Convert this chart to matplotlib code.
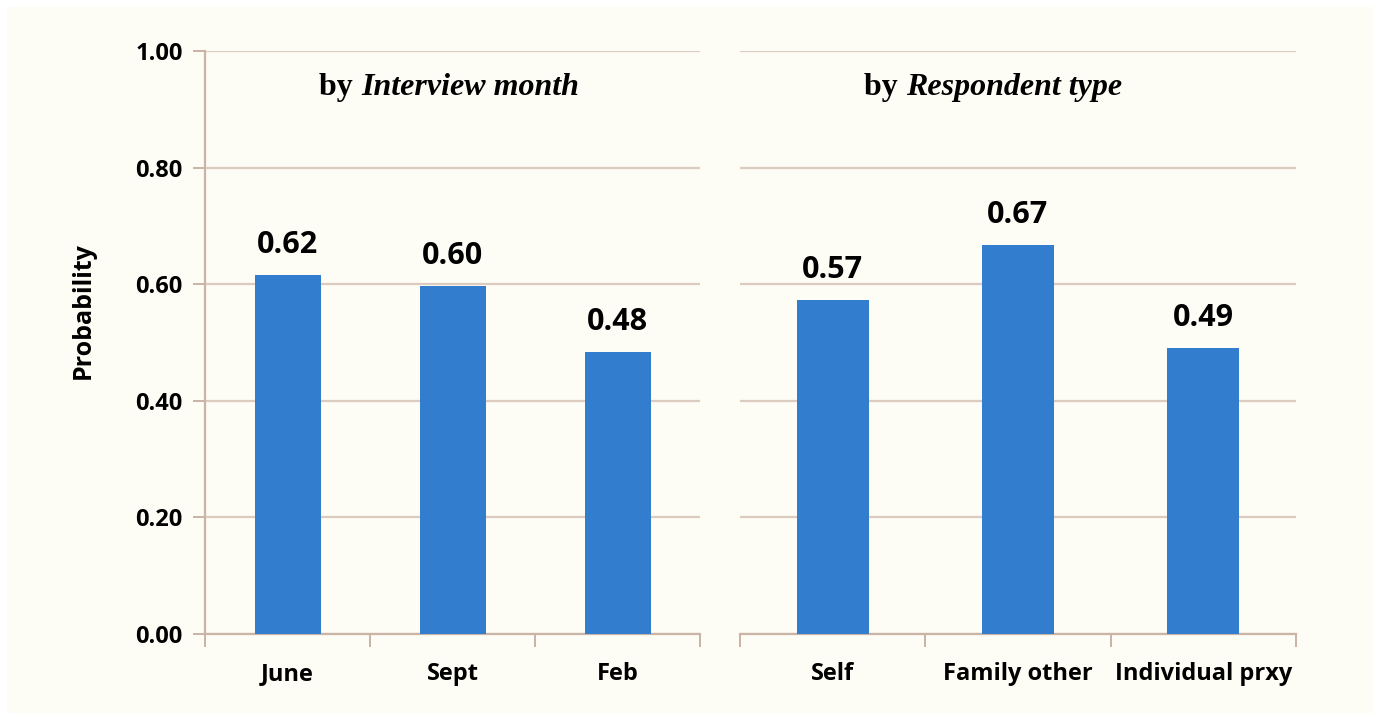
import matplotlib.pyplot as plt
from matplotlib.patches import Rectangle

# data (bar heights; labels show 2 decimals)
month_labels = ['June', 'Sept', 'Feb']
month_probs = [0.616, 0.597, 0.484]
resp_labels = ['Self', 'Family other', 'Individual prxy']
resp_probs = [0.573, 0.667, 0.490]
y_ticks = [0.0, 0.2, 0.4, 0.6, 0.8, 1.0]

bar_color = '#337dcf'
grid_color = '#dccbbf'
axis_color = '#c9b4a6'
bg = '#fdfcf5'
sans = 'Open Sans'
serif = 'Liberation Serif'

fig = plt.figure(figsize=(13.73, 7.13), dpi=100, facecolor='white')
fig.patches.append(Rectangle((7 / 1373, 0), 1, 1 - 7 / 713, transform=fig.transFigure,
                             facecolor=bg, edgecolor='none', zorder=-10))

H = 713.0
W = 1373.0
ax1 = fig.add_axes([205 / W, 1 - 634 / H, 495 / W, 583 / H])
ax2 = fig.add_axes([740 / W, 1 - 634 / H, 556 / W, 583 / H])


def panel(ax, labels, vals, width, title, title_x, show_y):
    ax.set_facecolor('none')
    x = range(len(vals))
    bars = ax.bar(x, vals, width=width, color=bar_color, zorder=3)
    ax.set_xlim(-0.5, len(vals) - 0.5)
    ax.set_ylim(0, 1.0)
    ax.set_yticks(y_ticks)
    ax.yaxis.grid(True, color=grid_color, linewidth=1.6, zorder=0)
    ax.set_axisbelow(True)
    for s in ['top', 'right']:
        ax.spines[s].set_visible(False)
    ax.spines['bottom'].set_color(axis_color)
    ax.spines['bottom'].set_linewidth(1.6)
    ax.set_xticks(list(x))
    ax.set_xticklabels(labels, fontfamily=sans, fontweight='bold', fontsize=17)
    ax.set_xticks([i - 0.5 for i in range(len(vals) + 1)], minor=True)
    ax.tick_params(axis='x', which='major', length=0, pad=20)
    ax.tick_params(axis='x', which='minor', length=9, width=1.4, color=axis_color, direction='out')
    if show_y:
        ax.spines['left'].set_color(axis_color)
        ax.spines['left'].set_linewidth(1.6)
        ax.set_yticklabels([f'{v:.2f}' for v in y_ticks], fontfamily=sans,
                           fontweight='bold', fontsize=17)
        ax.tick_params(axis='y', length=9, width=1.4, color=axis_color, pad=7)
        ax.set_ylabel('Probability', fontfamily=sans, fontweight='bold', fontsize=18)
        ax.yaxis.set_label_coords(-0.22, 0.554)
    else:
        ax.spines['left'].set_visible(False)
        ax.tick_params(axis='y', length=0, labelleft=False)
    for b, v in zip(bars, vals):
        ax.annotate(f'{v:.2f}', (b.get_x() + b.get_width() / 2, v), xytext=(0, 11),
                    textcoords='offset points', ha='center', va='bottom',
                    fontfamily=sans, fontweight='bold', fontsize=22)
    ax.text(title_x, 0.938, 'by ', transform=ax.transAxes, ha='right', va='center',
            fontfamily=serif, fontweight='bold', fontsize=23)
    ax.text(title_x, 0.938, title, transform=ax.transAxes, ha='left', va='center',
            fontfamily=serif, fontweight='bold', fontstyle='italic', fontsize=23)


panel(ax1, month_labels, month_probs, 0.4, 'Interview month', 0.315, True)
panel(ax2, resp_labels, resp_probs, 0.39, 'Respondent type', 0.298, False)

fig.savefig('out.png', dpi=100, facecolor=fig.get_facecolor())
